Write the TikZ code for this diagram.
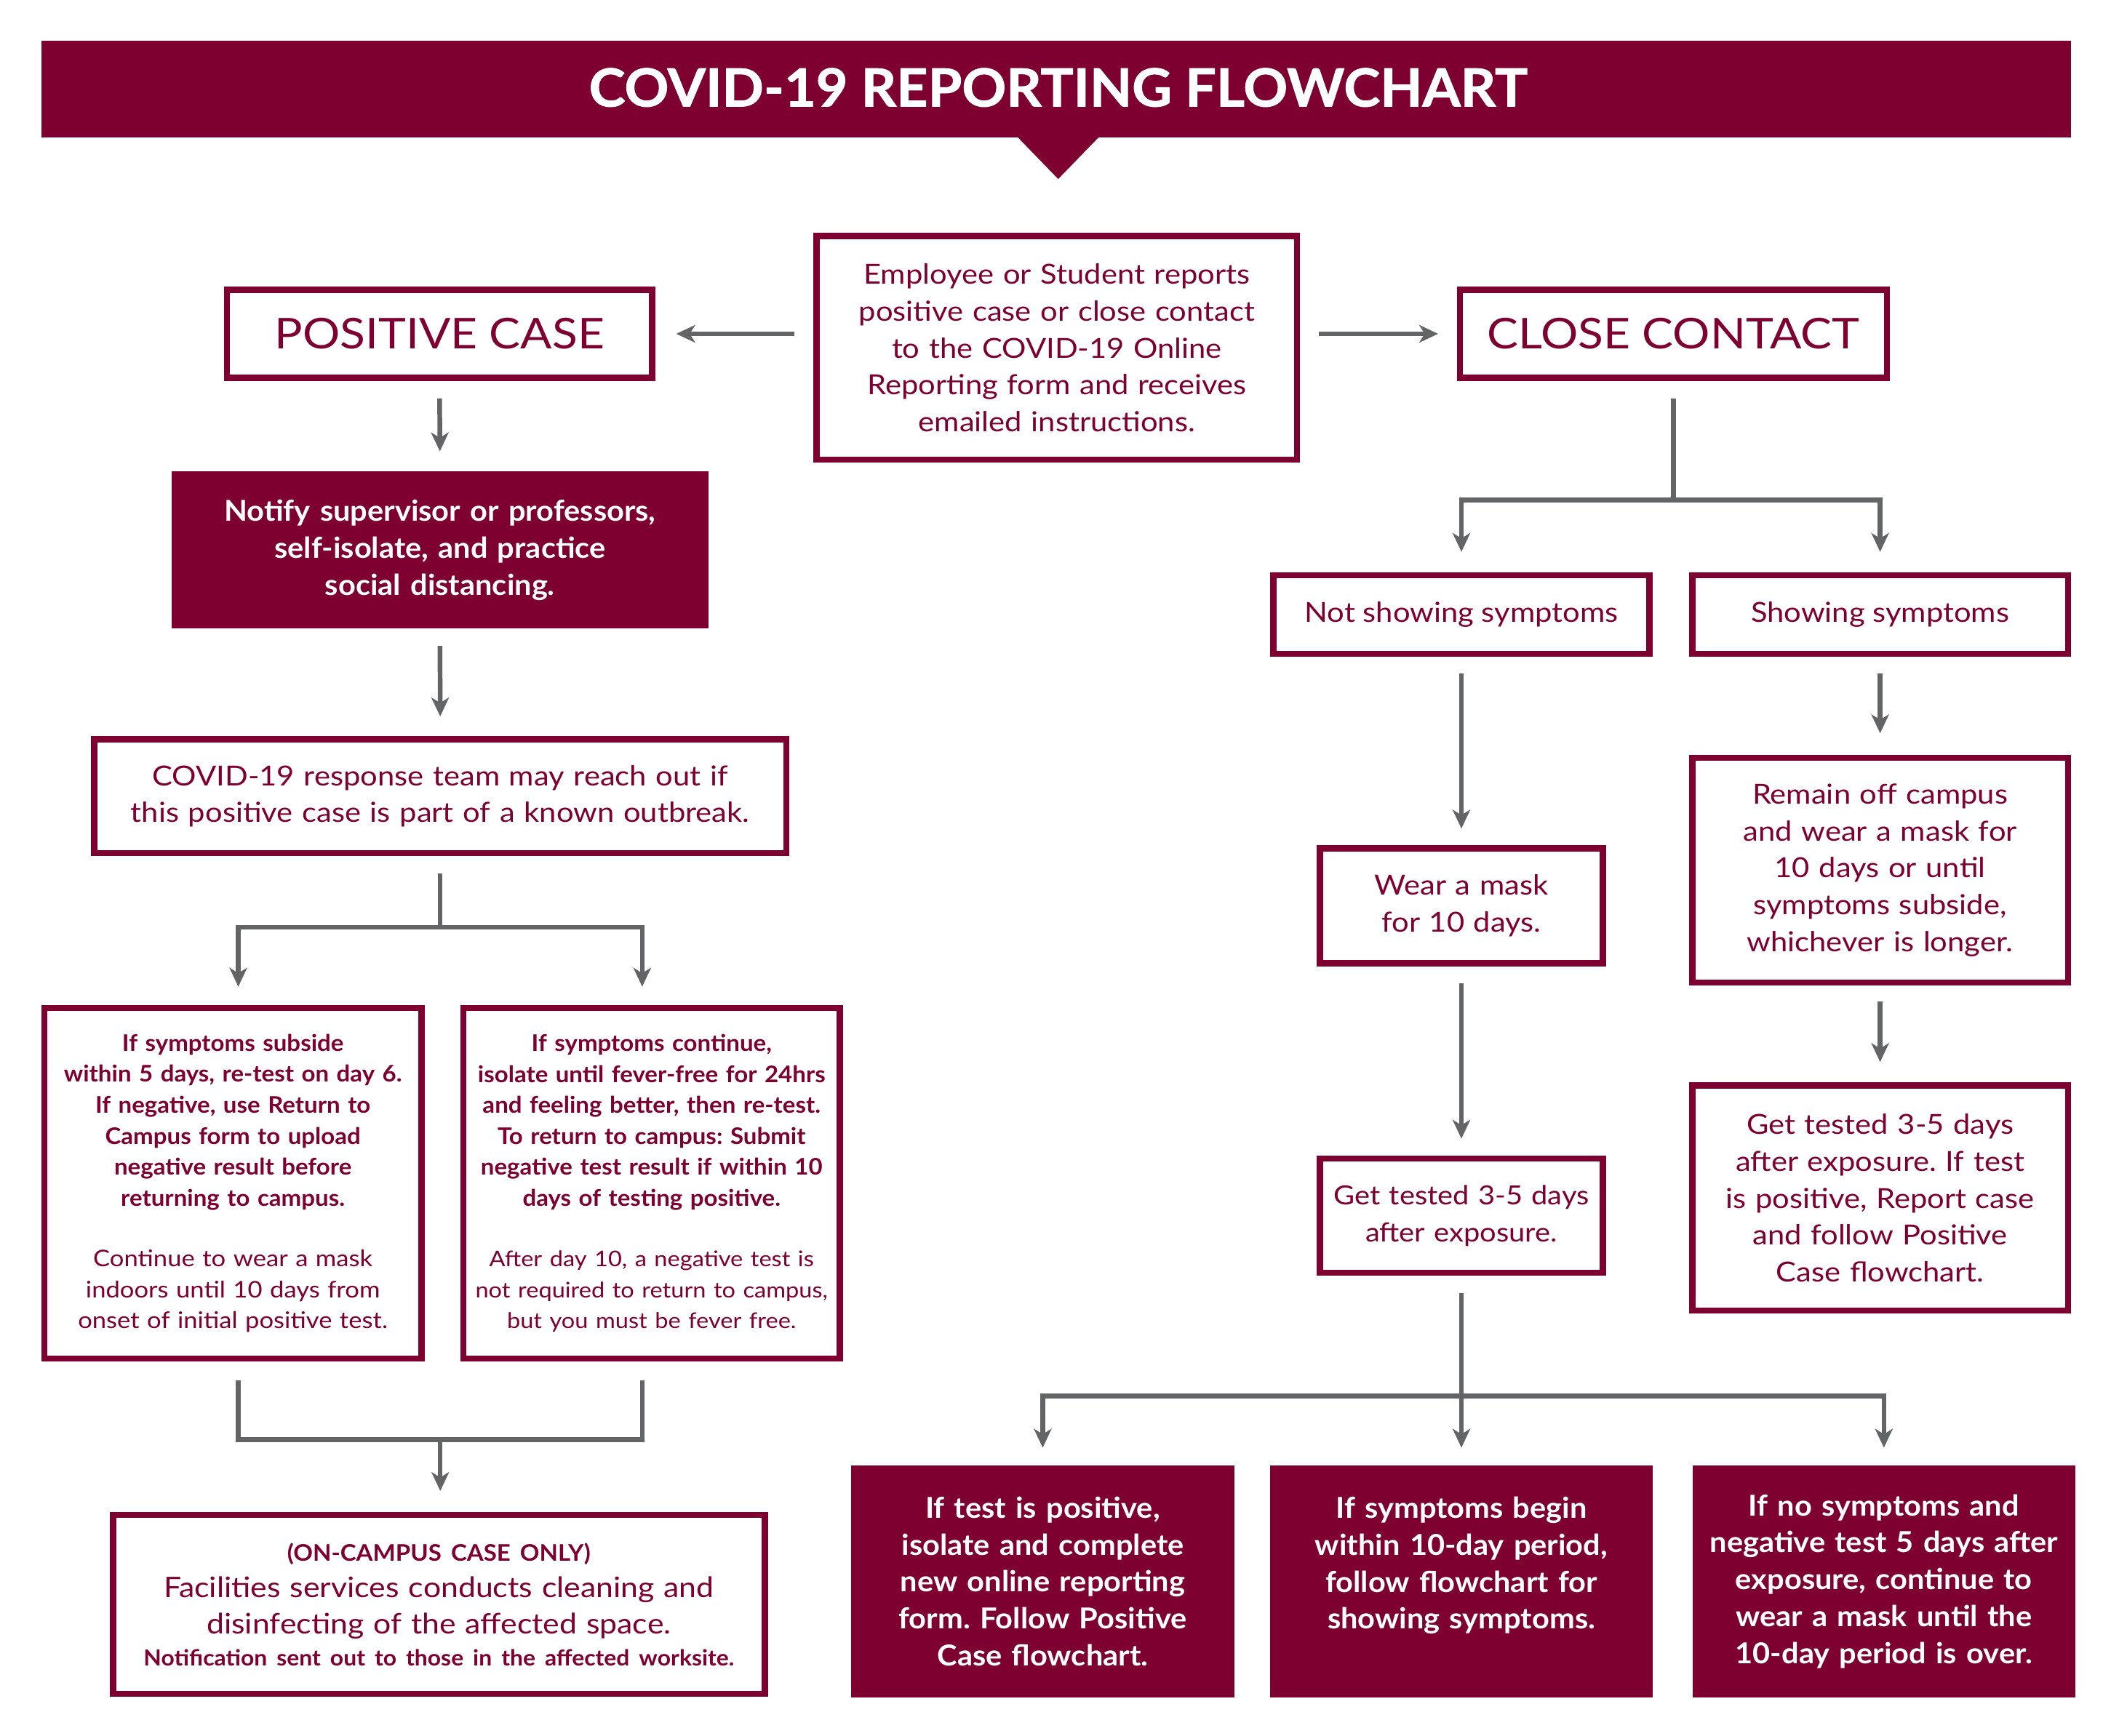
\documentclass[tikz,border=0pt]{standalone}
\usepackage{fontspec}
\setmainfont{Lato}[UprightFeatures={FakeStretch=1.1}, BoldFeatures={FakeStretch=1.05}]
\newfontfamily\titlefont{Lato}[UprightFeatures={FakeStretch=1.05}, BoldFeatures={FakeStretch=1.045, FakeBold=1.3}]
\usetikzlibrary{arrows.meta}
\definecolor{maroon}{RGB}{125,0,48}
\definecolor{arrgray}{RGB}{99,100,102}
\newcommand\setfs[2]{\fontsize{#1}{#2}\selectfont}
\frenchspacing
\tikzset{
  obox/.style={draw=maroon, line width=4.6pt, text=maroon, align=center, inner sep=0pt, fill=white},
  fbox/.style={fill=maroon, text=white, align=center, inner sep=0pt, outer sep=0pt, font=\bfseries\setfs{21.4}{27.4}},
  conn/.style={draw=arrgray, line width=3.5pt},
  arr/.style={conn, -{Stealth[length=14pt,width=13pt,inset=4pt]}},
  body/.style={font=\setfs{20.5}{27.5}},
  smalltxt/.style={font=\setfs{17}{23}},
  head/.style={font=\setfs{31.5}{36}}
}
\begin{document}
\begin{tikzpicture}[x=1pt,y=-1pt]
\useasboundingbox[fill=white] (0,0) rectangle (1568,1289.7);
% banner
\fill[maroon] (31,30) rectangle (1538,102);
\fill[maroon] (755,101) -- (817,101) -- (786,133) -- cycle;
\node[text=white, font=\titlefont\bfseries\setfs{39}{44}] (title) at (786,65) {COVID-19 REPORTING FLOWCHART};

% top row
\node[obox, body, minimum width=357pt, minimum height=166.4pt, text width=352pt] (ec) at (785,258.4)
  {Employee or Student reports\\ positive case or close contact\\ to the COVID-19 Online\\ Reporting form and receives\\ emailed instructions.};
\node[obox, head, minimum width=316pt, minimum height=65.5pt] (pc) at (326.5,248) {POSITIVE CASE};
\node[obox, head, minimum width=317pt, minimum height=65.5pt] (cc) at (1243,248) {CLOSE CONTACT};

% positive case column
\node[fbox, minimum width=399pt, minimum height=116.6pt, text width=395pt] (notify) at (326.8,408.6)
  {Notify supervisor or professors,\\ self-isolate, and practice\\ social distancing.};
\node[obox, body, minimum width=514pt, minimum height=84.7pt, text width=510pt] (resp) at (327,591.5)
  {COVID-19 response team may reach out if\\ this positive case is part of a known outbreak.};
\node[obox, smalltxt, minimum width=280pt, minimum height=260.5pt, text width=278pt] (lft) at (173,879.1)
  {\bfseries If symptoms subside\\ within 5 days, re-test on day 6.\\ If negative, use Return to\\ Campus form to upload\\ negative result before\\ returning to campus.\\[22pt]
   \mdseries Continue to wear a mask\\ indoors until 10 days from\\ onset of initial positive test.};
\node[obox, smalltxt, minimum width=279.4pt, minimum height=260.5pt, text width=278pt] (rgt) at (484,879.1)
  {\bfseries If symptoms continue,\\ isolate until fever-free for 24hrs\\ and feeling better, then re-test.\\ To return to campus: Submit\\ negative test result if within 10\\ days of testing positive.\\[22pt]
   \mdseries\setfs{16}{23}After day 10, a negative test is\\ not required to return to campus,\\ but you must be fever free.};
\node[obox, font=\setfs{21}{27}, minimum width=484pt, minimum height=133pt, text width=480pt] (camp) at (326,1192)
  {{\bfseries\setfs{17}{27}(ON-CAMPUS CASE ONLY)}\\ Facilities services conducts cleaning and\\ disinfecting of the affected space.\\[-3pt]
   {\bfseries\setfs{16.4}{27}Notification sent out to those in the affected worksite.}};

% close contact column
\node[obox, body, minimum width=279.4pt, minimum height=58.4pt] (ns) at (1085.5,456.5) {Not showing symptoms};
\node[obox, body, minimum width=279pt, minimum height=58.4pt] (ss) at (1396.5,456.5) {Showing symptoms};
\node[obox, body, minimum width=210pt, minimum height=85.4pt, text width=207pt] (wear) at (1085.5,673)
  {Wear a mask\\ for 10 days.};
\node[obox, body, minimum width=279pt, minimum height=166.8pt, text width=277pt] (remain) at (1396.5,646.5)
  {Remain off campus\\ and wear a mask for\\ 10 days or until\\ symptoms subside,\\ whichever is longer.};
\node[obox, font=\setfs{19.6}{27.5}, minimum width=210pt, minimum height=84.9pt, text width=207pt] (gt) at (1085.5,903.2)
  {Get tested 3-5 days\\ after exposure.};
\node[obox, body, minimum width=279pt, minimum height=167.4pt, text width=277pt] (gt2) at (1396.5,890)
  {Get tested 3-5 days\\ after exposure. If test\\ is positive, Report case\\ and follow Positive\\ Case flowchart.};

% bottom filled boxes
\node[fbox, minimum width=284.5pt, minimum height=172.5pt, text width=282pt] (b1) at (774.5,1174.8)
  {If test is positive,\\ isolate and complete\\ new online reporting\\ form. Follow Positive\\ Case flowchart.};
\node[fbox, minimum width=284.2pt, minimum height=172.5pt, text width=282pt] (b2) at (1085.5,1174.8)
  {If symptoms begin\\ within 10-day period,\\ follow flowchart for\\ showing symptoms.\\ \mbox{}};
\node[fbox, minimum width=284.5pt, minimum height=172.5pt, text width=282pt] (b3) at (1399.3,1174.8)
  {If no symptoms and\\ negative test 5 days after\\ exposure, continue to\\ wear a mask until the\\ 10-day period is over.};

% connectors top
\draw[arr, shorten <=14pt, shorten >=15.5pt] (ec.west |- pc.east) -- (pc.east);
\draw[arr, shorten <=14pt, shorten >=14pt] (ec.east |- cc.west) -- (cc.west);

% positive case connectors
\draw[arr, shorten <=13pt, shorten >=15pt] (pc.south) -- (notify.north);
\draw[arr, shorten <=13pt, shorten >=14.6pt] (notify.south) -- (resp.north);
\coordinate (j1) at (327,689);
\draw[conn, shorten <=12.7pt] (resp.south) -- (j1);
\draw[arr, shorten >=13.5pt] (j1) -| ([xshift=4pt]lft.north);
\draw[arr, shorten >=13.5pt] (j1) -| ([xshift=-7pt]rgt.north);
\coordinate (j2) at (327,1069.6);
\draw[conn, shorten <=13.6pt] ([xshift=4pt]lft.south) |- (j2);
\draw[conn, shorten <=13.6pt] ([xshift=-7pt]rgt.south) |- (j2);
\draw[arr, shorten >=15.5pt] (j2) -- (camp.north -| j2);

% close contact connectors
\coordinate (j3) at (1243,371.5);
\draw[conn, shorten <=13pt] (cc.south) -- (j3);
\draw[arr, shorten >=15pt] (j3) -| (ns.north);
\draw[arr, shorten >=15pt] (j3) -| (ss.north);
\draw[arr, shorten <=12.4pt, shorten >=12.4pt] (ns.south) -- (wear.north);
\draw[arr, shorten <=12.4pt, shorten >=16pt] (ss.south) -- (remain.north);
\draw[arr, shorten <=12.4pt, shorten >=12.5pt] (wear.south) -- (gt.north);
\draw[arr, shorten <=12pt, shorten >=15pt] (remain.south) -- (gt2.north);
\coordinate (j4) at (1085.5,1037);
\draw[conn, shorten <=12.7pt] (gt.south) -- (j4);
\draw[arr, shorten >=13pt] (j4) -- (b2.north);
\draw[arr, shorten >=13pt] (j4) -| (b1.north);
\draw[arr, shorten >=13pt] (j4) -| (b3.north);
\end{tikzpicture}
\end{document}
